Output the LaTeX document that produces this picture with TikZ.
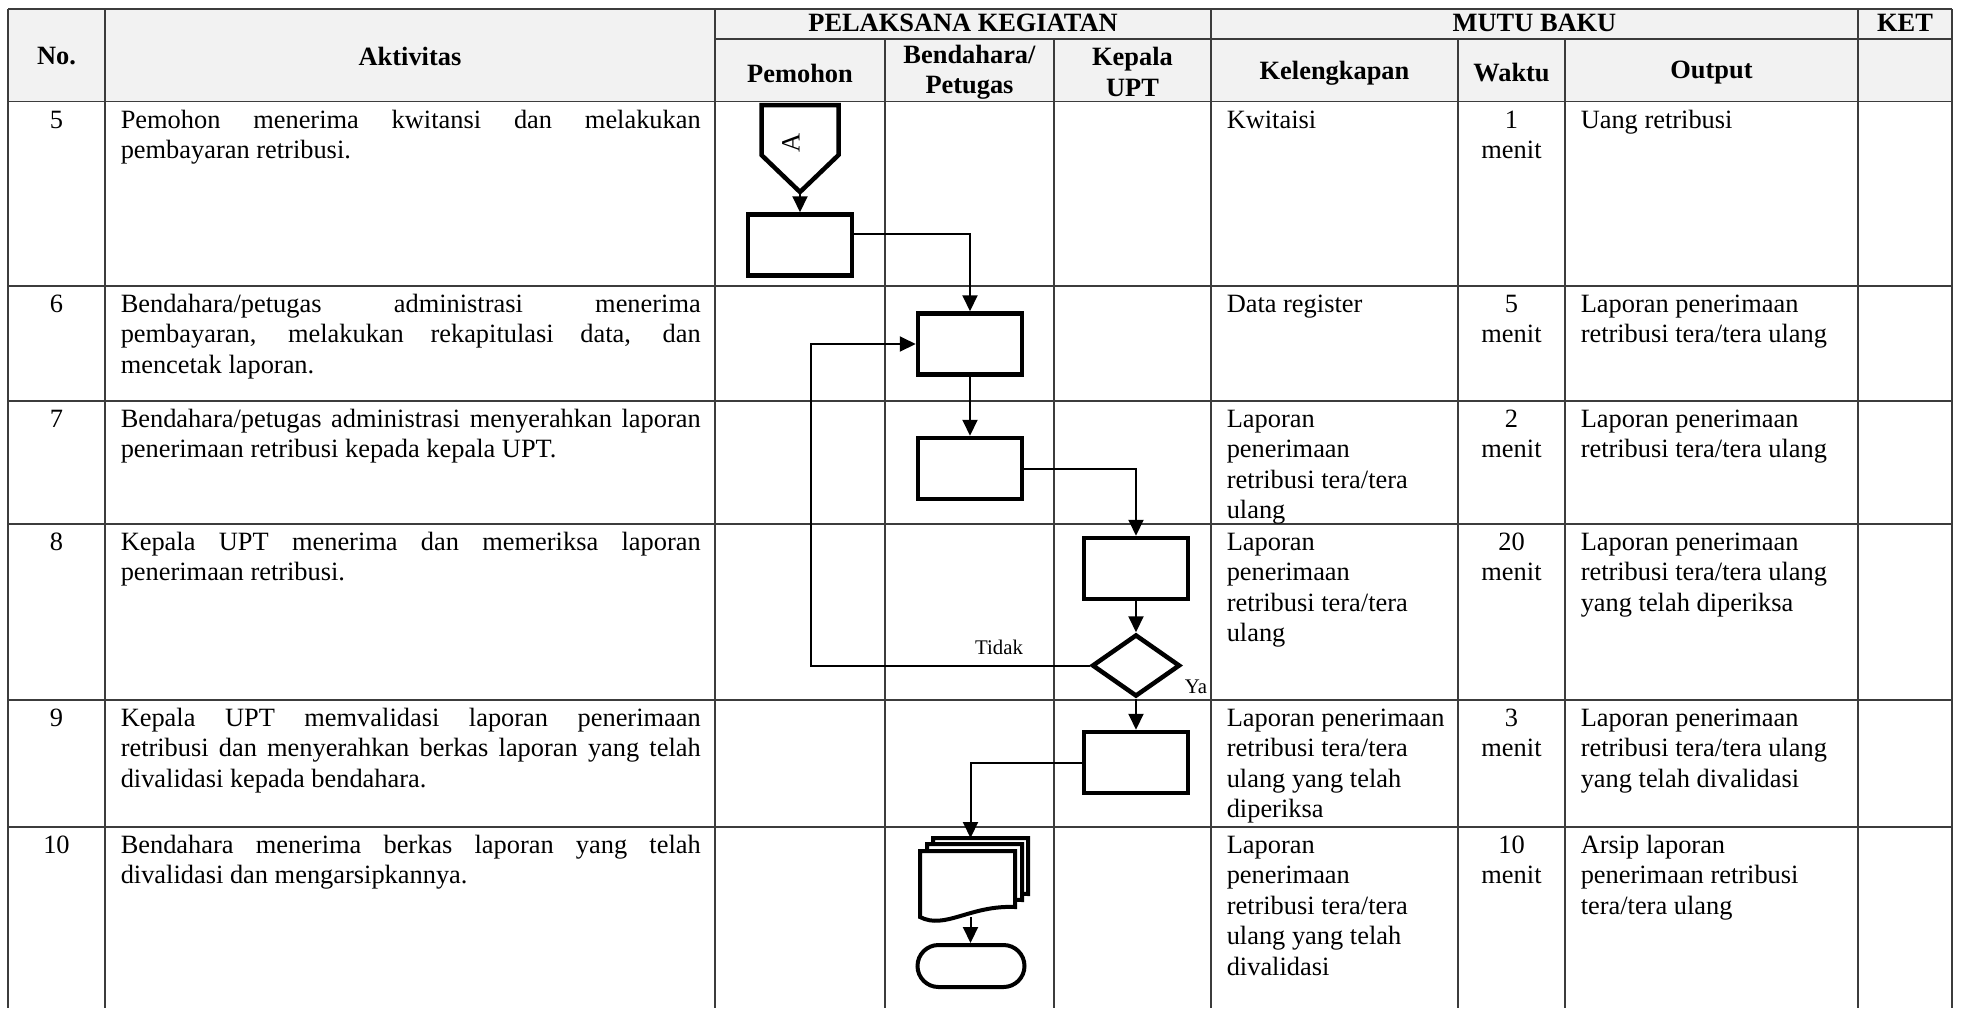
\documentclass[tikz,border=0pt]{standalone}
\usepackage{fontspec}
\setmainfont{Liberation Serif}
\usetikzlibrary{arrows.meta,shapes.geometric,shapes.misc,calc,positioning}
\definecolor{abu}{RGB}{242,242,242}
\definecolor{garisabu}{RGB}{60,60,60}

\tikzset{every picture/.style={line width=0.75pt}}
\tikzset{
  proses/.style={draw, line width=2.25pt, minimum width=52pt, minimum height=30.5pt, inner sep=0pt},
  keputusan/.style={draw, diamond, line width=2.25pt, minimum width=44pt, minimum height=31pt, inner sep=0pt},
  terminator/.style={draw, rounded rectangle, line width=2pt, minimum width=53.5pt, minimum height=21pt, inner sep=0pt},
  panah/.style={-{Triangle[length=8pt,width=7.5pt]}, line width=1pt},
  tabel/.style={draw=garisabu, line width=0.75pt},
  isi/.style={font=\fontsize{13.2}{15.2}\selectfont, inner sep=0pt},
  judul/.style={font=\fontsize{13.2}{15.2}\selectfont\bfseries, inner sep=0pt, align=center},
  kecil/.style={font=\fontsize{10.4}{12}\selectfont, inner sep=0pt},
  aktivitas/.style={isi, anchor=north west, text width=290pt, align=justify},
  kolomkiri/.style={isi, anchor=north west, align=left},
  kolomtengah/.style={isi, anchor=north, align=center},
}

\begin{document}
\begin{tikzpicture}[x=0.5pt,y=0.5pt,yscale=-1,xscale=1]
\useasboundingbox (0,0) rectangle (1966,1008);

% kepala tabel
\fill[abu] (8,9) rectangle (1952,101.5);
\foreach \y in {9,101.5,286,401,524,700,827}
  \draw[tabel] (8,\y) -- (1952,\y);
\draw[tabel] (715,39) -- (1952,39);
\foreach \x in {8,105,715,1211,1858,1952}
  \draw[tabel] (\x,9) -- (\x,1008);
\foreach \x in {885,1054,1458,1565}
  \draw[tabel] (\x,39) -- (\x,1008);

\node (hNo) [judul] at (56.5,56) {No.};
\node (hAkt) [judul] at (410,56) {Aktivitas};
\node (hPel) [judul] at (963,23) {PELAKSANA KEGIATAN};
\node (hMutu) [judul] at (1534.5,23) {MUTU BAKU};
\node (hKet) [judul] at (1905,23) {KET};
\node (hPem) [judul] at (800,73) {Pemohon};
\node (hBend) [judul] at (969.5,72) {Bendahara/\\Petugas};
\node (hKep) [judul] at (1132.5,72) {Kepala\\UPT};
\node (hKel) [judul] at (1334.5,73) {Kelengkapan};
\node (hWkt) [judul] at (1511.5,73) {Waktu};
\node (hOut) [judul] at (1711.5,73) {Output};

% baris 5
\node (no5) [kolomtengah] at (56.5,106) {\strut 5};
\node (akt5) [aktivitas] at (120,106) {\strut Pemohon menerima kwitansi dan melakukan\linebreak pembayaran retribusi.};
\node (kel5) [kolomkiri] at (1226,106) {\strut Kwitaisi};
\node (wkt5) [kolomtengah] at (1511.5,106) {\strut 1\\menit};
\node (out5) [kolomkiri] at (1580,106) {\strut Uang retribusi};

% baris 6
\node (no6) [kolomtengah] at (56.5,290.5) {\strut 6};
\node (akt6) [aktivitas] at (120,290.5) {\strut Bendahara/petugas administrasi menerima\linebreak pembayaran, melakukan rekapitulasi data, dan\linebreak mencetak laporan.};
\node (kel6) [kolomkiri] at (1226,290.5) {\strut Data register};
\node (wkt6) [kolomtengah] at (1511.5,290.5) {\strut 5\\menit};
\node (out6) [kolomkiri] at (1580,290.5) {\strut Laporan penerimaan\\retribusi tera/tera ulang};

% baris 7
\node (no7) [kolomtengah] at (56.5,405.5) {\strut 7};
\node (akt7) [aktivitas] at (120,405.5) {\strut Bendahara/petugas administrasi menyerahkan laporan\linebreak penerimaan retribusi kepada kepala UPT.};
\node (kel7) [kolomkiri] at (1226,405.5) {\strut Laporan\\penerimaan\\retribusi tera/tera\\ulang};
\node (wkt7) [kolomtengah] at (1511.5,405.5) {\strut 2\\menit};
\node (out7) [kolomkiri] at (1580,405.5) {\strut Laporan penerimaan\\retribusi tera/tera ulang};

% baris 8
\node (no8) [kolomtengah] at (56.5,528.5) {\strut 8};
\node (akt8) [aktivitas] at (120,528.5) {\strut Kepala UPT menerima dan memeriksa laporan\linebreak penerimaan retribusi.};
\node (kel8) [kolomkiri] at (1226,528.5) {\strut Laporan\\penerimaan\\retribusi tera/tera\\ulang};
\node (wkt8) [kolomtengah] at (1511.5,528.5) {\strut 20\\menit};
\node (out8) [kolomkiri] at (1580,528.5) {\strut Laporan penerimaan\\retribusi tera/tera ulang\\yang telah diperiksa};

% baris 9
\node (no9) [kolomtengah] at (56.5,704.5) {\strut 9};
\node (akt9) [aktivitas] at (120,704.5) {\strut Kepala UPT memvalidasi laporan penerimaan\linebreak retribusi dan menyerahkan berkas laporan yang telah\linebreak divalidasi kepada bendahara.};
\node (kel9) [kolomkiri] at (1226,704.5) {\strut Laporan penerimaan\\retribusi tera/tera\\ulang yang telah\\diperiksa};
\node (wkt9) [kolomtengah] at (1511.5,704.5) {\strut 3\\menit};
\node (out9) [kolomkiri] at (1580,704.5) {\strut Laporan penerimaan\\retribusi tera/tera ulang\\yang telah divalidasi};

% baris 10
\node (no10) [kolomtengah] at (56.5,831.5) {\strut 10};
\node (akt10) [aktivitas] at (120,831.5) {\strut Bendahara menerima berkas laporan yang telah\linebreak divalidasi dan mengarsipkannya.};
\node (kel10) [kolomkiri] at (1226,831.5) {\strut Laporan\\penerimaan\\retribusi tera/tera\\ulang yang telah\\divalidasi};
\node (wkt10) [kolomtengah] at (1511.5,831.5) {\strut 10\\menit};
\node (out10) [kolomkiri] at (1580,831.5) {\strut Arsip laporan\\penerimaan retribusi\\tera/tera ulang};

% bagan alir
\node (konA) [minimum width=38.5pt, minimum height=43.5pt, inner sep=0pt, outer sep=0pt] at (800,148.5) {};
\draw[line width=2.25pt] (konA.north west) -- (konA.north east) -- ($(konA.north east)!0.575!(konA.south east)$) -- (konA.south) -- ($(konA.north west)!0.575!(konA.south west)$) -- cycle;
\node (hurufA) [isi, rotate=90] at (791,143) {A};

\node (p1) [proses] at (800,245) {};
\node (p2) [proses] at (970,344) {};
\node (p3) [proses] at (970,468.5) {};
\node (p4) [proses] at (1136,568.5) {};
\node (cek) [keputusan] at (1136,665.5) {};
\node (p5) [proses] at (1136,762.5) {};

\node (arsip) [minimum width=47.5pt, minimum height=33pt, inner sep=0pt, outer sep=0pt] at (967.5,884) {};
\foreach \d in {13,7,0}
  \draw[line width=2pt, fill=white, shift={(\d,-\d)}] (920,851) -- (1015,851) -- (1015,907) .. controls (970,905) and (945,930) .. (920,917) -- cycle;
\node (selesai) [terminator] at (971,966) {};

\coordinate (balik) at (811,665.5);

\draw[panah] (konA.south) -- (p1);
\draw[panah] ([yshift=-5.5pt]p1.east) -| (p2);
\draw[panah] (p2) -- (p3);
\draw[panah] (p3) -| (p4);
\draw[panah] (p4) -- (cek);
\draw[panah] (cek) -- (p5);
\draw[panah] (cek.west) -- (balik) |- (p2.west);
\draw[panah] (p5.west) -| ([xshift=1.5pt,yshift=-6.5pt]arsip.north);
\draw[panah] ([xshift=1.5pt]arsip.south) -- ([xshift=1.5pt]arsip.south |- selesai.north);

\node (lblTidak) [kecil] at (999,647) {Tidak};
\node (lblYa) [kecil] at (1196,687) {Ya};

\end{tikzpicture}
\end{document}
